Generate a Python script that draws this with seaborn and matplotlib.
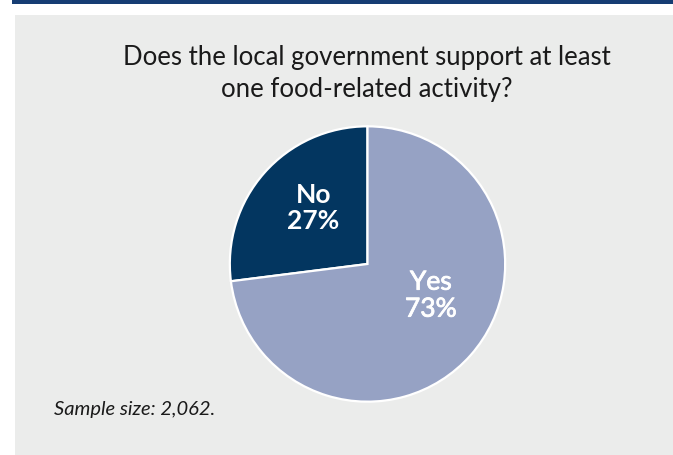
import matplotlib
matplotlib.use("Agg")
import matplotlib.pyplot as plt
import matplotlib.patheffects as pe
import seaborn as sns
from matplotlib.patches import Rectangle

categories = ["No", "Yes"]
values = [27, 73]
pct_labels = ["27%", "73%"]
title_lines = ["Does the local government support at least", "one food-related activity?"]
note = "Sample size: 2,062."

sns.set_theme(style="white")
plt.rcParams["font.family"] = ["Lato", "DejaVu Sans"]

W, H = 673, 455
fig = plt.figure(figsize=(W / 100, H / 100), dpi=100)
fig.patch.set_facecolor("white")

def px(x0, y0, w, h):
    return (x0 / W, 1 - (y0 + h) / H, w / W, h / H)

bg = fig.add_axes([0, 0, 1, 1])
bg.set_xlim(0, W)
bg.set_ylim(H, 0)
bg.axis("off")
bg.add_patch(Rectangle((15, 15), W - 15, H - 15, facecolor="#ebeceb", edgecolor="none"))
bg.add_patch(Rectangle((12, 0), W - 12, 3.5, facecolor="#163d73", edgecolor="none"))

bg.text(367, 57, title_lines[0], ha="center", va="center", fontsize=18.5, color="#1a1a1a")
bg.text(367, 89, title_lines[1], ha="center", va="center", fontsize=18.5, color="#1a1a1a")
bg.text(54, 410, note, ha="left", va="center", fontsize=14.5, style="italic", color="#1a1a1a")

cx, cy, r = 367.5, 264, 138.5
ax = fig.add_axes(px(cx - r, cy - r, 2 * r, 2 * r))
colors = ["#033660", "#96a2c4"]
wedges, _ = ax.pie(values, colors=colors, startangle=90, counterclock=True,
                   radius=1, wedgeprops=dict(edgecolor="white", linewidth=1.6))
ax.set_xlim(-1.006, 1.006)
ax.set_ylim(-1.006, 1.006)
ax.set_aspect("equal")
ax.axis("off")

label_pos = {"No": (-0.394, 0.405), "Yes": (0.46, -0.23)}
weights = {"No": "bold", "Yes": "normal"}
for cat, pl in zip(categories, pct_labels):
    x, y = label_pos[cat]
    t = ax.text(x, y, f"{cat}\n{pl}", ha="center", va="center", fontsize=19,
                color="white", fontweight=weights[cat], linespacing=1.1)
    if cat == "Yes":
        t.set_path_effects([pe.Stroke(linewidth=0.6, foreground="white"), pe.Normal()])

fig.savefig("out.png", dpi=100, facecolor=fig.get_facecolor())
